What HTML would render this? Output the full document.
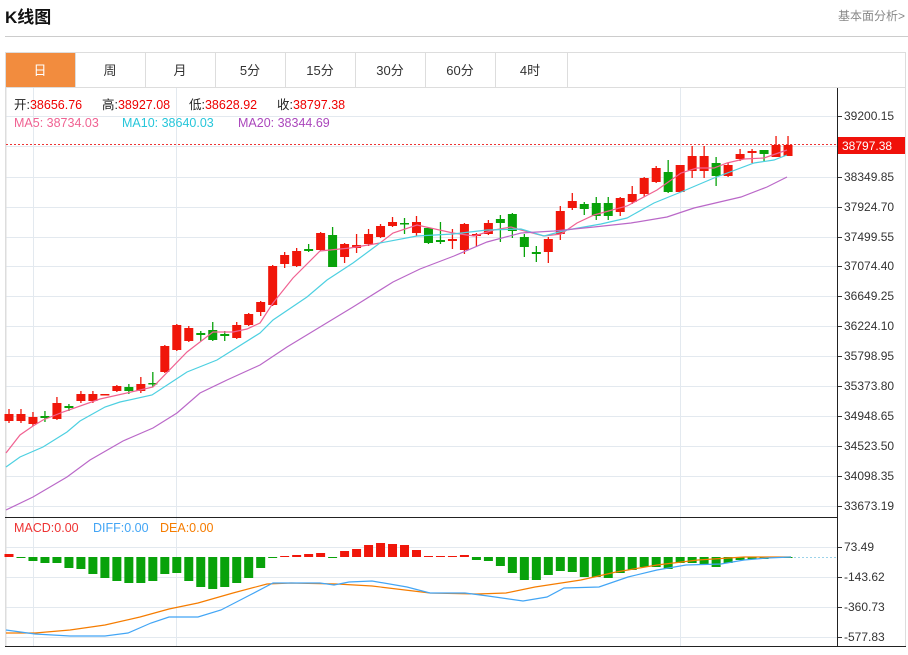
<!DOCTYPE html>
<html><head><meta charset="utf-8"><style>
body{margin:0;background:#fff;font-family:"Liberation Sans","Noto Sans CJK SC",sans-serif;}
</style></head><body>
<svg width="908" height="650" xmlns="http://www.w3.org/2000/svg" id="s" font-family="Liberation Sans, Noto Sans CJK SC, sans-serif">
<text x="5" y="23" font-size="17" font-weight="bold" fill="#111">K线图</text>
<text x="905" y="20" font-size="12" fill="#888" text-anchor="end">基本面分析&gt;</text>
<line x1="5" y1="36.5" x2="908" y2="36.5" stroke="#ccc"/>
<rect x="5.5" y="52.5" width="900" height="594" fill="none" stroke="#ddd"/>
<line x1="5" y1="87.5" x2="906" y2="87.5" stroke="#ddd"/>
<rect x="6" y="53" width="69" height="34" fill="#F28C3E"/>
<g font-size="13" text-anchor="middle" fill="#333">
<text x="40" y="75" fill="#fff">日</text><text x="110" y="75">周</text><text x="180" y="75">月</text><text x="250" y="75">5分</text><text x="320" y="75">15分</text><text x="390" y="75">30分</text><text x="460" y="75">60分</text><text x="530" y="75">4时</text>
</g>
<g stroke="#ddd"><line x1="75.5" y1="53" x2="75.5" y2="87"/><line x1="145.5" y1="53" x2="145.5" y2="87"/><line x1="215.5" y1="53" x2="215.5" y2="87"/><line x1="285.5" y1="53" x2="285.5" y2="87"/><line x1="355.5" y1="53" x2="355.5" y2="87"/><line x1="425.5" y1="53" x2="425.5" y2="87"/><line x1="495.5" y1="53" x2="495.5" y2="87"/><line x1="567.5" y1="53" x2="567.5" y2="87"/></g>
<g id="grid" stroke="#e3e9ef"></g>
<line x1="6" y1="88" x2="6" y2="647" stroke="#ddd"/>
<line x1="837.5" y1="88" x2="837.5" y2="647" stroke="#222"/>
<line x1="5" y1="517.5" x2="838" y2="517.5" stroke="#222"/>
<line x1="5" y1="646.5" x2="906" y2="646.5" stroke="#222"/>
<line x1="6" y1="144.5" x2="837" y2="144.5" stroke="#e33" stroke-dasharray="2,2"/>
<line x1="790" y1="557.5" x2="837" y2="557.5" stroke="#9cd3ea" stroke-dasharray="2,2"/>
<g id="c"></g>
<rect x="838" y="137" width="67" height="17" fill="#f0110a"/>
<text x="842" y="150" font-size="12" fill="#fff">38797.38</text>
<g font-size="12.5">
<text x="14" y="109" fill="#222">开:<tspan fill="#e00">38656.76</tspan></text>
<text x="102" y="109" fill="#222">高:<tspan fill="#e00">38927.08</tspan></text>
<text x="189" y="109" fill="#222">低:<tspan fill="#e00">38628.92</tspan></text>
<text x="277" y="109" fill="#222">收:<tspan fill="#e00">38797.38</tspan></text>
<text x="14" y="127" fill="#f06292">MA5: 38734.03</text>
<text x="122" y="127" fill="#26c6da">MA10: 38640.03</text>
<text x="238" y="127" fill="#ab47bc">MA20: 38344.69</text>
<text x="14" y="532" fill="#e33">MACD:0.00</text>
<text x="93" y="532" fill="#42a5f5">DIFF:0.00</text>
<text x="160" y="532" fill="#f57c00">DEA:0.00</text>
</g>
<g id="lab" font-size="12" fill="#333"></g>
</svg>
<script>
var NS="http://www.w3.org/2000/svg";
function el(p,t,a){var e=document.createElementNS(NS,t);for(var k in a)e.setAttribute(k,a[k]);document.getElementById(p).appendChild(e);return e;}
var ys=[116,146,177,207,237,266,296,326,356,386,416,446,476,506];
var labs={116:"39200.15",177:"38349.85",207:"37924.70",237:"37499.55",266:"37074.40",296:"36649.25",326:"36224.10",356:"35798.95",386:"35373.80",416:"34948.65",446:"34523.50",476:"34098.35",506:"33673.19",547:"73.49",577:"-143.62",607:"-360.73",637:"-577.83"};
ys.concat([547,577,607,637]).forEach(function(y){el("grid","line",{x1:6,y1:y+.5,x2:837,y2:y+.5});});
[33,176,680].forEach(function(x){el("grid","line",{x1:x+.5,y1:88,x2:x+.5,y2:646});});
for(var y in labs){el("lab","line",{x1:838,y1:+y+.5,x2:842,y2:+y+.5,stroke:"#333"});var t=el("lab","text",{x:844,y:+y+4});t.textContent=labs[y];}
var C=[[284,291,279,293,1],[284,291,279,293,1],[287,294,282,296,1],[286,288,281,292,0],[273,289,267,290,1],[276,278,274,281,0],[264,271,261,273,1],[264,271,261,273,1],[264,265,264,265,1],[256,261,255,262,1],[257,261,254,264,0],[254,261,247,263,1],[253,254,242,257,0],[216,242,215,243,1],[195,220,194,221,1],[198,211,196,212,1],[203,205,201,211,0],[200,210,192,211,0],[204,206,201,211,0],[195,208,192,209,1],[184,195,183,196,1],[172,182,171,186,1],[136,175,135,176,1],[125,134,122,138,1],[121,136,118,137,1],[119,121,114,122,0],[103,120,102,121,1],[105,137,97,137,0],[114,127,113,133,1],[115,118,104,123,1],[104,114,99,116,1],[96,107,94,108,1],[92,96,87,97,1],[93,94,88,104,0],[92,103,86,106,1],[98,113,98,114,0],[110,112,92,114,0],[109,111,99,119,1],
[224,250,223,254,1],[234,236,233,247,1],[223,234,220,235,1],[219,223,215,242,0],[214,231,213,238,0],[237,247,234,257,0],[252,254,246,262,0],[239,252,237,263,1],[211,234,206,240,1],[201,208,193,210,1],[204,209,202,215,0],[203,216,197,220,0],[203,216,197,220,0],[198,212,197,216,1],[194,202,186,204,1],[178,194,177,197,1],[168,182,166,183,1],[172,192,160,193,0],[165,192,165,192,1],[156,171,146,178,1],[156,171,146,178,1],[163,176,157,186,0],[165,176,163,177,1],[154,159,149,161,1],[151,153,149,163,1],[150,154,150,162,0],[145,157,136,157,1],[145,156,136,156,1]];
C.forEach(function(c,i){var x=9+i*11.985,col=c[4]?"#f0160a":"#08a20a";
 var o=i<38?130:0;
 el("c","line",{x1:x,y1:c[2]+o,x2:x,y2:c[3]+o,stroke:col,"stroke-width":1.3});
 var t=c[0]+o,b=c[1]+o;
 el("c","rect",{x:x-4.5,y:t,width:9,height:Math.max(b-t,1.5),fill:col});});
var M=[554,557,561,563,563,568,569,574,578,581,583,583,581,574,573,581,587,589,587,583,578,568,558,556,555,554,553,558,551,549,545,543,544,545,550,556,556,556,555,560,561,566,573,580,580,575,571,572,577,577,578,573,570,567,567,569,563,563,564,567,563,560,559,559,558,558];
M.forEach(function(v,i){var x=9+i*11.985,z=557;var col=v<z?"#f0160a":"#08a20a";
 var t=Math.min(v,z),h=Math.max(Math.abs(v-z),1);el("c","rect",{x:x-4.5,y:t,width:9,height:h,fill:col});});
function pl(pts,col){el("c","polyline",{points:pts,fill:"none",stroke:col,"stroke-width":1.2});}
pl("6,453 20,435 33,426 43,420 63,412 100,399 140,390 153,387 187,352 213,332 233,332 247,329 260,323 273,303 293,278 320,251 350,248 380,243 393,233 417,225 453,233 474,236 494,230 511,227 521,230 544,236 561,234 577,223 594,215 627,206 657,190 681,173 697,168 714,168 727,163 744,159 764,158 787,150","#f06292");
pl("6,467 20,457 43,447 67,432 80,421 105,407 120,402 152,395 187,372 217,360 260,333 273,320 307,297 327,280 353,263 380,243 417,236 453,234 487,230 521,229 544,236 567,230 601,224 627,218 654,203 681,192 714,178 754,163 774,160 787,155","#4dd0e1");
pl("6,510 33,497 67,477 90,460 123,441 153,428 177,413 200,393 227,380 260,365 287,347 320,327 353,307 393,282 420,269 454,256 487,242 521,233 554,231 594,227 631,223 667,217 694,208 741,197 767,187 787,177","#ba68c8");
pl("6,633 35,633 70,630 105,625 140,617 169,609 198,603 233,593 267,584 291,583 337,584 372,586 430,593 477,594 506,593 535,587 581,580 616,572 657,565 698,560 744,557 791,557","#f57c00");
pl("6,630 35,634 70,636 105,636 128,633 151,623 169,617 198,617 221,610 250,595 273,583 320,583 334,585 349,582 372,581 407,587 430,593 465,593 488,596 523,601 547,597 564,588 599,587 628,577 657,570 686,565 721,564 744,560 767,558 791,557","#42a5f5");
</script>
</body></html>
